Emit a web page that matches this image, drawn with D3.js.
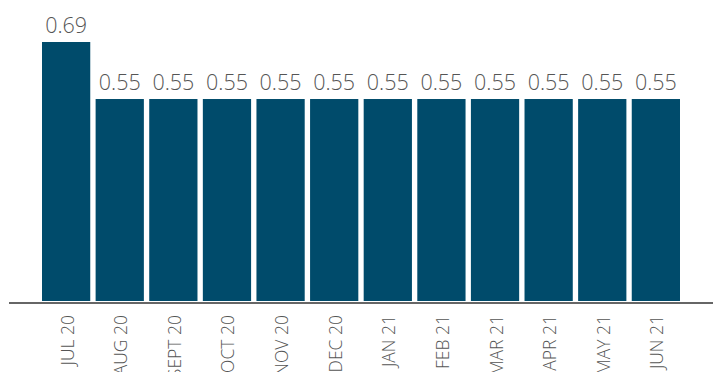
<!DOCTYPE html>
<html><head><meta charset="utf-8">
<script src="https://cdn.jsdelivr.net/npm/d3@7"></script>
<style>
html,body{margin:0;padding:0;background:#fff;}
svg{display:block;}
text{font-family:"Open Sans",sans-serif;font-weight:300;fill:#555;}
</style></head>
<body>
<svg id="chart" width="713" height="372"></svg>
<script>
const categories = ["JUL 20","AUG 20","SEPT 20","OCT 20","NOV 20","DEC 20","JAN 21","FEB 21","MAR 21","APR 21","MAY 21","JUN 21"];
const values = [0.69,0.55,0.55,0.55,0.55,0.55,0.55,0.55,0.55,0.55,0.55,0.55];
const valueLabels = ["0.69","0.55","0.55","0.55","0.55","0.55","0.55","0.55","0.55","0.55","0.55","0.55"];

const svg = d3.select("#chart");
const barBottom = 301, axisY = 303;
const x = d3.scaleBand().domain(categories).range([42, 680]).paddingInner(0.1).paddingOuter(0);
const y = d3.scaleLinear().domain([0, 0.69]).range([323, 42]);

svg.append("g").selectAll("rect").data(values).join("rect")
  .attr("x", (d,i) => x(categories[i]))
  .attr("width", x.bandwidth())
  .attr("y", d => y(d))
  .attr("height", d => barBottom - y(d))
  .attr("fill", "#004b6b");

svg.append("g").selectAll("text").data(values).join("text")
  .attr("x", (d,i) => x(categories[i]) + x.bandwidth()/2)
  .attr("y", d => y(d) - 9)
  .attr("text-anchor", "middle")
  .attr("font-size", 21.5)
  .text((d,i) => valueLabels[i]);

svg.append("line").attr("x1", 9).attr("x2", 713).attr("y1", axisY).attr("y2", axisY)
  .attr("stroke", "#333").attr("stroke-width", 1.5);

svg.append("g").selectAll("text").data(categories).join("text")
  .attr("transform", d => `translate(${x(d) + x.bandwidth()/2 + 7.5},${axisY + 12}) rotate(-90)`)
  .attr("text-anchor", "end")
  .attr("font-size", 17.5)
  .text(d => d);
</script>
</body></html>
